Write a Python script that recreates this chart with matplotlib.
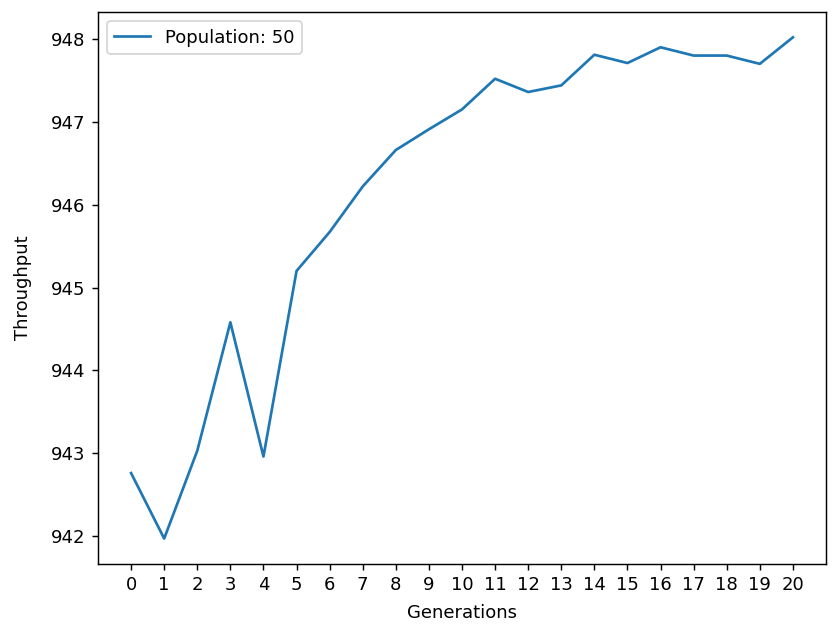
import matplotlib
matplotlib.use("Agg")
import matplotlib.pyplot as plt

generations = list(range(21))
throughput = [942.76, 941.97, 943.03, 944.58, 942.96, 945.20, 945.67, 946.22,
              946.66, 946.91, 947.15, 947.52, 947.36, 947.44, 947.81, 947.71,
              947.90, 947.80, 947.80, 947.70, 948.02]
label = "Population: 50"

fig = plt.figure(figsize=(6.4, 4.8), dpi=130)
ax = fig.add_axes([98/832, 1 - 564.5/625, (826-98)/832, (564.5-12.3)/625])
ax.plot(generations, throughput, label=label)
ax.set_xticks(generations)
ax.set_xlabel("Generations", labelpad=5.5)
ax.set_ylabel("Throughput", labelpad=10.5)
ax.legend(loc="upper left")
fig.savefig("out.png", dpi=130)
